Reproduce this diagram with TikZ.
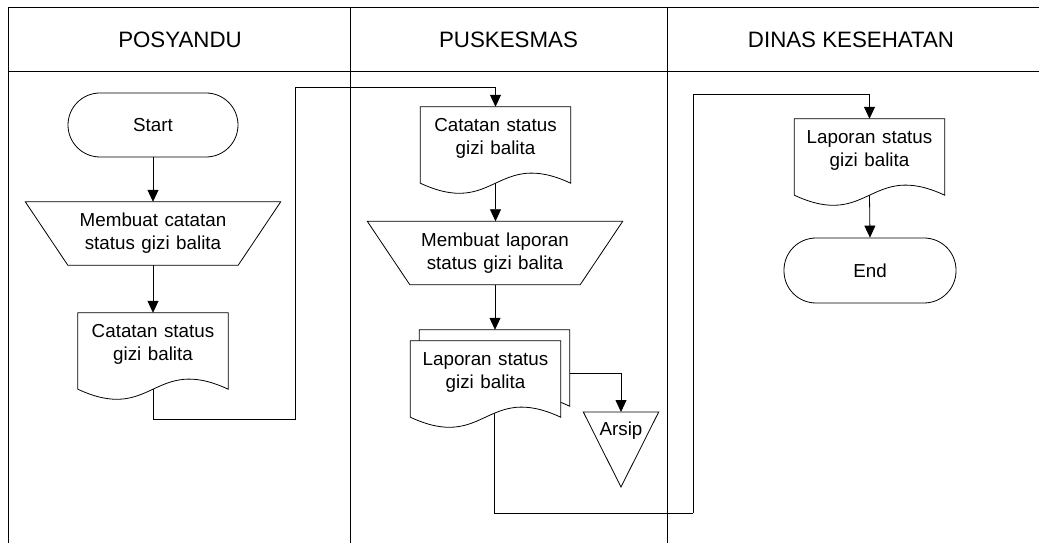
\documentclass[tikz,border=0pt]{standalone}
\usepackage{fontspec}
\setmainfont{Liberation Sans}
\usetikzlibrary{arrows.meta,calc}
\pgfdeclarelayer{bg}
\pgfdeclarelayer{mid}
\pgfsetlayers{bg,mid,main}
\newcommand\nodefont{\fontsize{18.8bp}{23bp}\selectfont\spaceskip=6.5bp plus 1bp}
\newcommand\headfont{\fontsize{22.3bp}{26bp}\selectfont}
\newcommand\uptext[1]{\raisebox{6.5bp}[\height][\depth]{\begin{tabular}{@{}c@{}}#1\end{tabular}}}
\newcommand\docoutline[1]{\draw[shapeline, fill=white] (#1.south west) -- (#1.north west) -- (#1.north east) -- (#1.south east) .. controls ([yshift=35bp]#1.south) and ([yshift=-35bp]#1.south) .. (#1.south west) -- cycle;}
\newcommand\manoutline[1]{\draw[shapeline, fill=white] ([xshift=-42.5bp]#1.north west) -- ([xshift=42.5bp]#1.north east) -- (#1.south east) -- (#1.south west) -- cycle;}
\tikzset{
  frame/.style={line width=1bp, draw=black},
  shapeline/.style={line width=0.8bp, draw=black},
  conn/.style={line width=0.8bp, draw=black},
  arr/.style={conn, -{Triangle[width=11bp,length=12bp]}},
  term/.style={shapeline, rounded corners=32bp, minimum width=170bp, minimum height=64bp, inner sep=0pt, font=\nodefont},
  docbox/.style={minimum width=150bp, minimum height=76bp, inner sep=0pt, font=\nodefont},
  manbox/.style={minimum width=170bp, minimum height=63bp, inner sep=0pt, font=\nodefont},
  head/.style={font=\headfont, inner sep=0pt}
}
\begin{document}
\begin{tikzpicture}[x=1bp,y=-1bp]
\useasboundingbox (0,0) rectangle (1039,543);
% headers
\node[head] (h1) at (180,40) {POSYANDU};
\node[head] (h2) at (508.5,40) {PUSKESMAS};
\node[head] (h3) at (851,40) {DINAS KESEHATAN};
% POSYANDU
\node[term] (start) at (153,125) {Start};
\node[manbox] (m1) at (153,233.5) {\begin{tabular}{@{}c@{}}Membuat catatan\\status gizi balita\end{tabular}};
\node[docbox] (d1) at (153,351) {\uptext{Catatan status\\gizi balita}};
% PUSKESMAS
\node[docbox] (p1) at (495.5,145) {\uptext{Catatan status\\gizi balita}};
\node[manbox] (m2) at (495,253) {\begin{tabular}{@{}c@{}}Membuat laporan\\status gizi balita\end{tabular}};
\node[docbox] (lb) at (494.5,368) {};
\node[docbox] (lf) at (485.5,379) {\uptext{Laporan status\\gizi balita}};
\node[inner sep=0pt, minimum width=75bp, minimum height=36bp, anchor=north, font=\nodefont] (arsip) at (621,412) {Arsip};
% DINAS
\node[docbox] (dn) at (869.5,157) {\uptext{Laporan status\\gizi balita}};
\node[term, minimum width=172bp, minimum height=65bp] (end) at (870,270.5) {End};
\coordinate (c1) at (295,419);
\coordinate (c2) at (295,87);
\coordinate (c3) at (693,513);
\coordinate (c4) at (693,94);
\begin{pgfonlayer}{mid}
\manoutline{m1}
\docoutline{d1}
\docoutline{p1}
\manoutline{m2}
\docoutline{lb}
\docoutline{lf}
\docoutline{dn}
\draw[shapeline] (arsip.north west) -- (arsip.north east) -- ($(arsip.north)+(0,75)$) -- cycle;
\end{pgfonlayer}
\begin{pgfonlayer}{bg}
% frame
\draw[frame] (8,543) -- (8,8) -- (1039,8);
\draw[frame] (8,72) -- (1039,72);
\draw[frame] (350,8) -- (350,543);
\draw[frame] (667,8) -- (667,543);
% connectors
\draw[arr] (start) -- (m1.north);
\draw[arr] (m1.south) -- (d1.north);
\draw[arr] (d1.south) |- (c1) -- (c2) -| (p1.north);
\draw[arr] (p1.south) -- (p1.south |- m2.north);
\draw[arr] (m2.south) -- (m2.south |- lb.north);
\draw[arr] ([yshift=-5bp]lb.east) -| (arsip.north);
\draw[conn] (lb.south) |- (c3);
\draw[arr] (c3) -- (c4) -| (dn.north);
\draw[arr] (dn.south) -- (end.north);
\end{pgfonlayer}
\end{tikzpicture}
\end{document}
